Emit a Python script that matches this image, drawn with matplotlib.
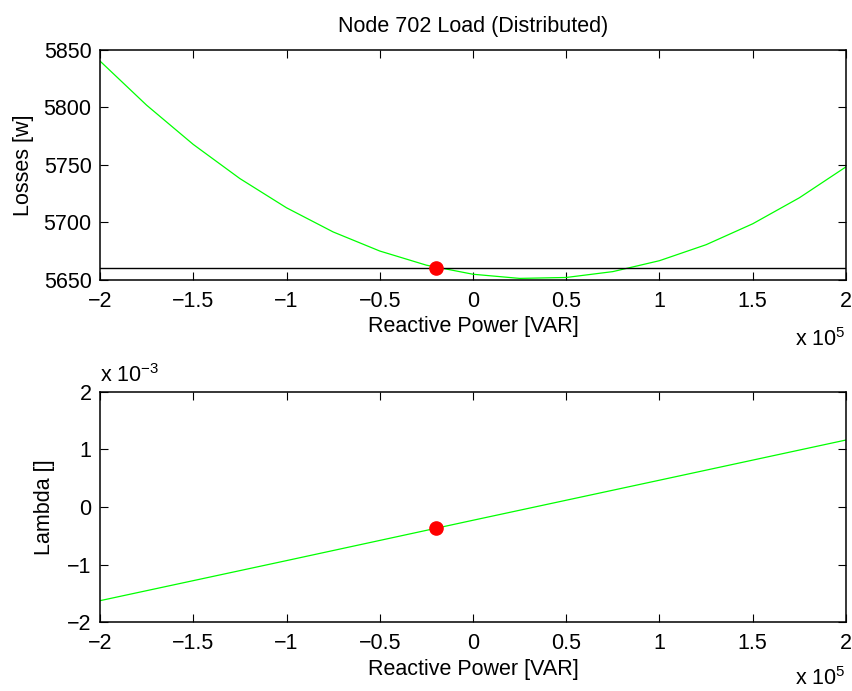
import matplotlib
matplotlib.use("Agg")
import matplotlib.pyplot as plt
import numpy as np

plt.rcParams['font.family'] = ['Liberation Sans', 'DejaVu Sans']
plt.rcParams['mathtext.fontset'] = 'custom'
plt.rcParams['mathtext.rm'] = 'Liberation Sans'
plt.rcParams['mathtext.it'] = 'Liberation Sans'

# Reactive power (in units of 1e5 VAR)
q = [-2.0, -1.75, -1.5, -1.25, -1.0, -0.75, -0.5, -0.25, 0.0,
     0.25, 0.5, 0.75, 1.0, 1.25, 1.5, 1.75, 2.0]
# Losses [W]
losses = [5840.4, 5802.0, 5767.9, 5738.2, 5712.8, 5691.8, 5675.2, 5662.9, 5655.0,
          5651.4, 5652.2, 5657.3, 5666.8, 5680.7, 5698.9, 5721.5, 5748.4]
# Lambda (units of 1e-3)
lam_q = [-2.0, -1.0, 0.0, 1.0, 2.0]
lam = [-1.625, -0.93, -0.23, 0.465, 1.162]

op_q = -0.2
op_loss = 5660.5
op_lam = -0.37

xticks = [-2, -1.5, -1, -0.5, 0, 0.5, 1, 1.5, 2]
xticklabels = ['\u22122', '\u22121.5', '\u22121', '\u22120.5', '0', '0.5', '1', '1.5', '2']

FS = 15.5
fig = plt.figure(figsize=(8.53, 6.91), dpi=100)
W, H = 853, 691
ax1 = fig.add_axes([100 / W, 1 - 280 / H, 746 / W, 230 / H])
ax2 = fig.add_axes([100 / W, 1 - 622.3 / H, 746 / W, 230.6 / H])

green = (0, 1, 0)

ax1.plot(q, losses, color=green, lw=0.9)
ax1.axhline(op_loss, color='black', lw=1.0)
ax1.plot([op_q], [op_loss], 'o', color='red', ms=9.5, mec='red')
ax1.set_xlim(-2, 2)
ax1.set_ylim(5650, 5850)
ax1.set_yticks([5650, 5700, 5750, 5800, 5850])
ax1.set_title('Node 702 Load (Distributed)', fontsize=FS, pad=13)
ax1.set_ylabel('Losses [w]', fontsize=FS)
ax1.yaxis.set_label_coords(-0.088, 0.5)

ax2.plot(lam_q, lam, color=green, lw=0.9)
ax2.plot([op_q], [op_lam], 'o', color='red', ms=9.5, mec='red')
ax2.set_xlim(-2, 2)
ax2.set_ylim(-2, 2)
ax2.set_yticks([-2, -1, 0, 1, 2])
ax2.set_yticklabels(['\u22122', '\u22121', '0', '1', '2'])
ax2.set_ylabel('Lambda []', fontsize=FS)
ax2.yaxis.set_label_coords(-0.06, 0.5)
ax2.text(0.0, 1.02, r'x 10$^{-3}$', transform=ax2.transAxes,
         fontsize=FS, ha='left', va='bottom')

for ax, yo in ((ax1, -0.26), (ax2, -0.245)):
    ax.set_xticks(xticks)
    ax.set_xticklabels(xticklabels)
    ax.set_xlabel('Reactive Power [VAR]', fontsize=FS, labelpad=3)
    ax.tick_params(direction='in', top=True, right=True, length=6, width=0.8,
                   labelsize=FS, pad=8)
    ax.tick_params(axis='y', pad=6)
    for s in ax.spines.values():
        s.set_linewidth(1.1)
    ax.text(1.0, yo, r'x 10$^{5}$', transform=ax.transAxes,
            fontsize=FS, ha='right', va='center')

fig.savefig('out.png', dpi=100)
